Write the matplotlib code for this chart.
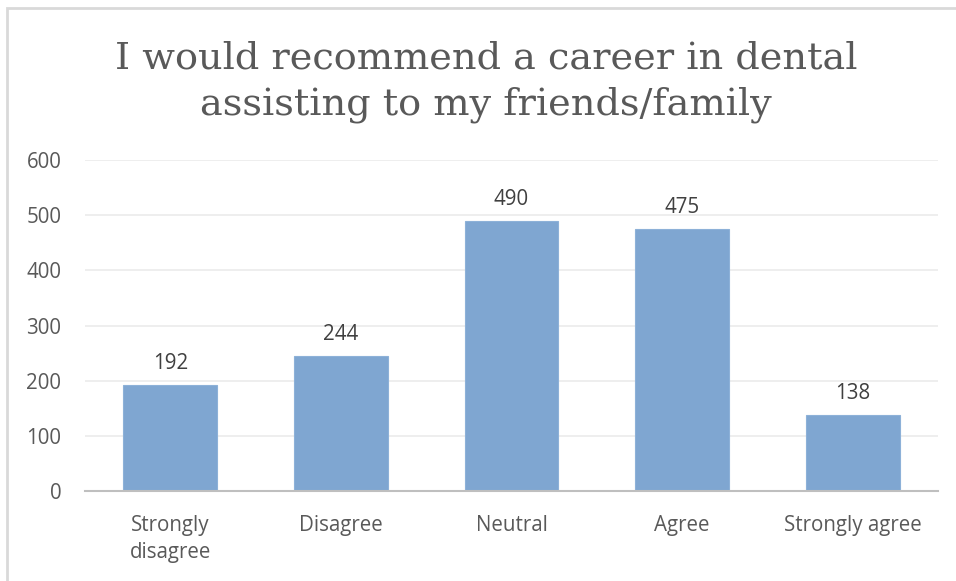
import matplotlib
matplotlib.use("Agg")
import matplotlib.pyplot as plt
from matplotlib.patches import Rectangle

categories = ["Strongly\ndisagree", "Disagree", "Neutral", "Agree", "Strongly agree"]
counts = [192, 244, 490, 475, 138]
y_ticks = [0, 100, 200, 300, 400, 500, 600]
title = "I would recommend a career in dental\nassisting to my friends/family"

W, H = 956, 581
fig = plt.figure(figsize=(W / 100, H / 100), dpi=100)
fig.patch.set_facecolor("white")

# chart frame (left and top edges visible)
fig.patches.append(Rectangle((7 / W, -0.1), 2.0, (H - 8) / H + 0.1,
                             transform=fig.transFigure, fill=False,
                             edgecolor="#D9D9D9", linewidth=2.0))

left, right = 85 / W, 938 / W
bottom, top = 1 - 491 / H, 1 - 160 / H
ax = fig.add_axes([left, bottom, right - left, top - bottom])

x = range(len(categories))
bars = ax.bar(x, counts, width=0.55, color="#7FA6D1", edgecolor="#8DB1D8",
              linewidth=0.8, zorder=3)

ax.set_xlim(-0.5, len(categories) - 0.5)
ax.set_ylim(0, 600)
ax.set_yticks(y_ticks)
ax.set_yticklabels([str(v) for v in y_ticks])
ax.set_xticks(list(x))
ax.set_xticklabels(categories, linespacing=1.4)

font = "Open Sans"
fs = 14.8
for lbl in ax.get_yticklabels() + ax.get_xticklabels():
    lbl.set_fontfamily(font)
    lbl.set_fontsize(fs)
    lbl.set_color("#595959")

ax.tick_params(axis="both", length=0)
ax.tick_params(axis="y", pad=17)
ax.tick_params(axis="x", pad=17)

ax.grid(axis="y", color="#EBEBEB", linewidth=1.2, zorder=0)
for side in ["top", "right", "left"]:
    ax.spines[side].set_visible(False)
ax.spines["bottom"].set_color("#BFBFBF")
ax.spines["bottom"].set_linewidth(1.5)
ax.spines["bottom"].set_zorder(4)

for rect, v in zip(bars, counts):
    ax.annotate(str(v), (rect.get_x() + rect.get_width() / 2, v),
                xytext=(0, 8), textcoords="offset points",
                ha="center", va="bottom", fontsize=fs, family=font,
                color="#404040")

fig.text(486 / W, 1 - 82 / H, title, ha="center", va="center",
         fontsize=27.5, family="DejaVu Serif", color="#595959",
         linespacing=1.35)

fig.savefig("out.png", dpi=100, facecolor="white")
